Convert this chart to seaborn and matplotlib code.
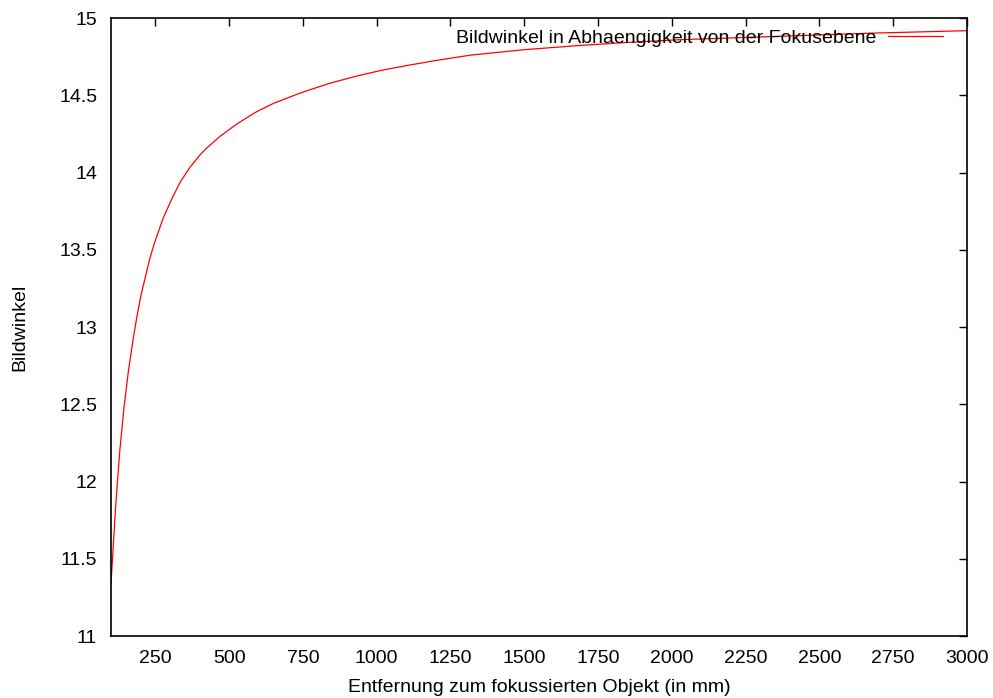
import pandas as pd
import numpy as np
import seaborn as sns
import matplotlib.pyplot as plt

# values
entfernung = [100, 115, 129.3, 144, 158.6, 174, 187.9, 202, 217.2, 231, 246.5, 261,
              275.8, 306, 335, 368, 402, 425, 470, 527, 590, 651, 742, 840, 934,
              1013, 1104, 1200, 1319, 1500, 1693, 1850, 2032, 2338, 2677, 3000]
bildwinkel = [11.34, 11.82, 12.19, 12.48, 12.71, 12.91, 13.07, 13.21, 13.33, 13.44, 13.54, 13.62,
              13.70, 13.83, 13.94, 14.035, 14.115, 14.16, 14.235, 14.315, 14.39, 14.448, 14.515, 14.577, 14.625,
              14.66, 14.693, 14.725, 14.76, 14.795, 14.823, 14.842, 14.86, 14.88, 14.902, 14.918]

x_ticks = list(range(250, 3001, 250))
y_ticks = [11, 11.5, 12, 12.5, 13, 13.5, 14, 14.5, 15]
y_labels = ["11", "11.5", "12", "12.5", "13", "13.5", "14", "14.5", "15"]

kurve = pd.DataFrame({"Entfernung": entfernung, "Bildwinkel": bildwinkel})

sns.set_style("white")
plt.rcParams['font.family'] = ['Liberation Sans', 'DejaVu Sans']
plt.rcParams['text.color'] = "black"
plt.rcParams['axes.labelcolor'] = "black"

fig = plt.figure(figsize=(9.93, 6.98), dpi=100)
ax = fig.add_axes([0.1118, 0.0888, 0.862, 0.8854])

sns.lineplot(data=kurve, x="Entfernung", y="Bildwinkel", color="red", linewidth=0.9,
             label="Bildwinkel in Abhaengigkeit von der Fokusebene", ax=ax)

ax.set_xlim(100, 3000)
ax.set_ylim(11, 15)
ax.set_xticks(x_ticks)
ax.set_yticks(y_ticks)
ax.set_yticklabels(y_labels)

for s in ax.spines.values():
    s.set_color("black")
    s.set_linewidth(1.2)

ax.tick_params(axis="both", direction="in", length=6, width=1, colors="black",
               labelsize=14, top=True, right=True)
ax.tick_params(axis="y", pad=10)
ax.tick_params(axis="x", pad=10)

ax.set_xlabel("Entfernung zum fokussierten Objekt (in mm)", fontsize=14, labelpad=9)
ax.set_ylabel("Bildwinkel", fontsize=14, labelpad=22)

ax.legend(loc="upper right", bbox_to_anchor=(0.972, 0.982), frameon=False,
          markerfirst=False, fontsize=14, handlelength=2.83, handletextpad=0.62,
          borderaxespad=0, borderpad=0, labelcolor="black")

plt.savefig("out.png", dpi=100)
